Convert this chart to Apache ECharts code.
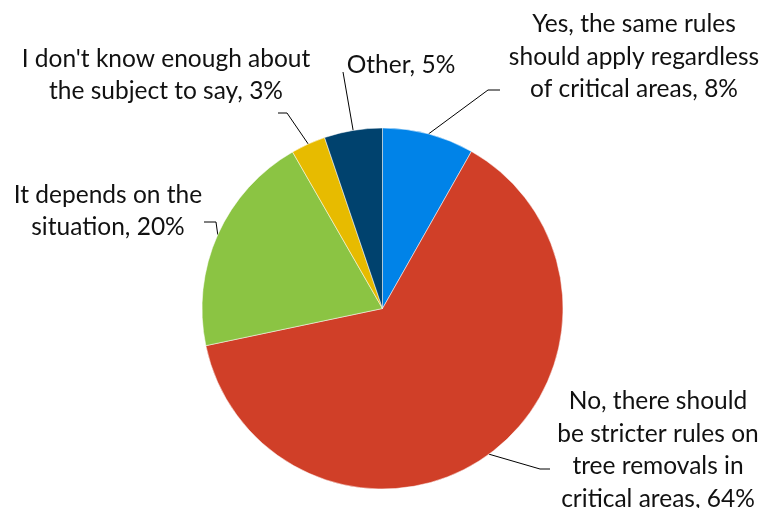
<!DOCTYPE html>
<html>
<head>
<meta charset="utf-8">
<script src="https://cdn.jsdelivr.net/npm/echarts@6/dist/echarts.min.js"></script>
<style>
  html, body { margin: 0; padding: 0; background: #fff; }
  #chart { width: 778px; height: 508px; }
</style>
</head>
<body>
<div id="chart"></div>
<script>
// ---- data ----
const categories = [
  "Yes, the same rules\nshould apply regardless\nof critical areas",
  "No, there should\nbe stricter rules on\ntree removals in\ncritical areas",
  "It depends on the\nsituation",
  "I don't know enough about\nthe subject to say",
  "Other"
];
const values = [8.2, 63.5, 20.0, 3.1, 5.2];
const colors = ["#0083E8", "#D03F28", "#8BC443", "#E7BB00", "#00426E"];

// ---- label layout (positions of label blocks and leader-line bends) ----
const labelPos = [
  { x: 634, y: 57 },
  { x: 658, y: 450 },
  { x: 108, y: 211 },
  { x: 166, y: 75 },
  { x: 401, y: 65 }
];
const lineBends = [
  [[488, 90], [500, 90]],
  [[540, 469], [550, 469]],
  [[216, 222], [204, 222]],
  [[287, 113], [278, 113]],
  [[343, 72], [343, 72]]
];

const chart = echarts.init(document.getElementById('chart'), null, { renderer: 'canvas' });

const seriesData = categories.map((c, i) => ({
  name: c,
  value: values[i],
  itemStyle: { color: colors[i] }
}));

chart.setOption({
  animation: false,
  backgroundColor: '#ffffff',
  series: [{
    type: 'pie',
    center: [382.5, 308.5],
    radius: 180.5,
    startAngle: 90,
    clockwise: true,
    avoidLabelOverlap: false,
    data: seriesData,
    itemStyle: { borderColor: '#ffffff', borderWidth: 0.5 },
    label: {
      show: true,
      position: 'outside',
      formatter: p => p.name + ', ' + Math.round(p.value) + '%',
      fontFamily: 'Lato',
      fontSize: 24.5,
      lineHeight: 32.5,
      color: '#111111',
      align: 'center'
    },
    labelLine: {
      show: true,
      length: 10,
      length2: 10,
      lineStyle: { color: '#000000', width: 1 }
    },
    labelLayout: function (params) {
      const i = params.dataIndex;
      const start = params.labelLinePoints && params.labelLinePoints[0];
      const out = {
        x: labelPos[i].x,
        y: labelPos[i].y,
        align: 'center',
        verticalAlign: 'middle'
      };
      if (start) {
        out.labelLinePoints = [[start[0], start[1]], lineBends[i][0], lineBends[i][1]];
      }
      return out;
    },
    emphasis: { disabled: true }
  }]
});
</script>
</body>
</html>
